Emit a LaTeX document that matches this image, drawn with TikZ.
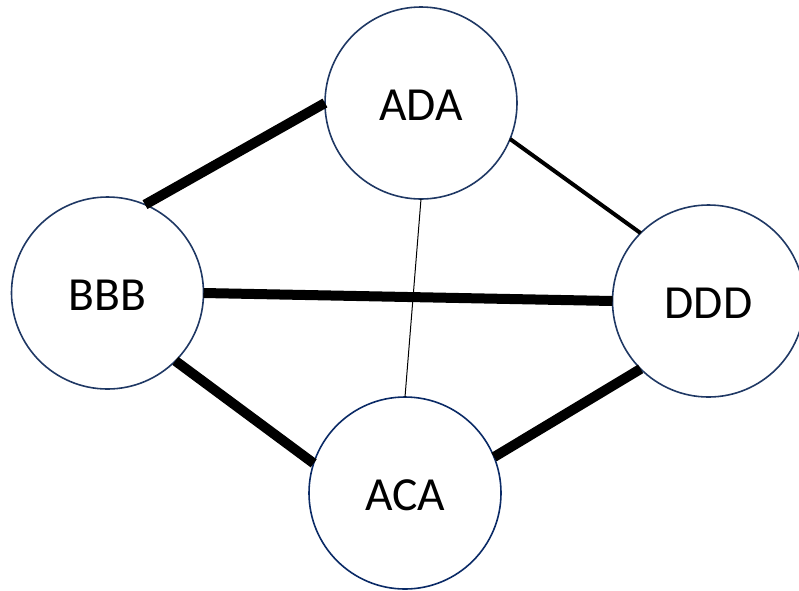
\documentclass[tikz,border=0pt]{standalone}
\usepackage{fontspec}
\setmainfont{Carlito}
\definecolor{navy}{HTML}{1F3864}
\definecolor{navyb}{HTML}{0A2A66}
\newcommand{\lowtext}[1]{\raisebox{-2.5pt}[\height][0pt]{#1}}
\begin{document}
\begin{tikzpicture}[x=1pt,y=-1pt,
  circ/.style={circle, draw=navy, line width=1.6pt, fill=white,
    minimum size=192pt, inner sep=0pt, outer sep=0pt,
    font=\fontsize{47.5}{56}\selectfont},
  heavy/.style={line width=10pt, black},
  medium/.style={line width=4pt, black},
  fine/.style={line width=1pt, black}]
\useasboundingbox (0,0) rectangle (799,590);
\node[circ] (ADA) at (421,103) {\lowtext{ADA}};
\node[circ] (BBB) at (107.5,293) {\lowtext{BBB}};
\node[circ] (DDD) at (708.5,301) {\lowtext{DDD}};
\node[circ, draw=navyb] (ACA) at (405,493) {\lowtext{ACA}};
\draw[heavy] (BBB.67.5) -- (ADA.west);
\draw[medium] (ADA.-22.5) -- (DDD.135);
\draw[heavy] (BBB.east) -- (DDD.west);
\draw[fine] (ADA.south) -- (ACA.north);
\draw[heavy] (BBB.-45) -- (ACA.162);
\draw[heavy] (ACA.22.5) -- (DDD.-135);
\end{tikzpicture}
\end{document}
